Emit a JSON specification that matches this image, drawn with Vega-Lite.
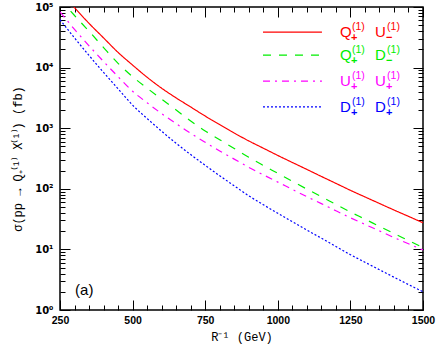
{
 "$schema": "https://vega.github.io/schema/vega-lite/v6.json",
 "width": 363,
 "height": 303,
 "autosize": "none",
 "padding": {"left": 60, "top": 7, "right": 13, "bottom": 37},
 "background": "white",
 "config": {
  "view": {"stroke": "black", "strokeWidth": 1.5},
  "axis": {"domain": false, "grid": false, "tickColor": "black", "tickWidth": 1, "labelColor": "black", "titleColor": "black", "labelFont": "DejaVu Sans", "labelFontWeight": "bold", "labelFontSize": 10, "titleFont": "Liberation Mono", "titleFontWeight": "normal", "titleFontSize": 12, "labelFlush": false, "labelOverlap": false}
 },
 "datasets": {
  "curves": [
   {"s": "Q+U-", "x": 250, "y": 186000}, {"s": "Q+U-", "x": 300, "y": 97700}, {"s": "Q+U-", "x": 350, "y": 53700}, {"s": "Q+U-", "x": 400, "y": 30900}, {"s": "Q+U-", "x": 450, "y": 17800}, {"s": "Q+U-", "x": 500, "y": 11000}, {"s": "Q+U-", "x": 550, "y": 6920}, {"s": "Q+U-", "x": 600, "y": 4570}, {"s": "Q+U-", "x": 650, "y": 3160}, {"s": "Q+U-", "x": 700, "y": 2240}, {"s": "Q+U-", "x": 750, "y": 1585}, {"s": "Q+U-", "x": 800, "y": 1148}, {"s": "Q+U-", "x": 850, "y": 832}, {"s": "Q+U-", "x": 900, "y": 617}, {"s": "Q+U-", "x": 950, "y": 468}, {"s": "Q+U-", "x": 1000, "y": 355}, {"s": "Q+U-", "x": 1050, "y": 272}, {"s": "Q+U-", "x": 1100, "y": 209}, {"s": "Q+U-", "x": 1150, "y": 160}, {"s": "Q+U-", "x": 1200, "y": 123}, {"s": "Q+U-", "x": 1250, "y": 94.4}, {"s": "Q+U-", "x": 1300, "y": 73.5}, {"s": "Q+U-", "x": 1350, "y": 57.3}, {"s": "Q+U-", "x": 1400, "y": 44.7}, {"s": "Q+U-", "x": 1450, "y": 35.1}, {"s": "Q+U-", "x": 1500, "y": 27.5},
   {"s": "Q+D-", "x": 250, "y": 134900}, {"s": "Q+D-", "x": 300, "y": 72400}, {"s": "Q+D-", "x": 350, "y": 39800}, {"s": "Q+D-", "x": 400, "y": 21400}, {"s": "Q+D-", "x": 450, "y": 11750}, {"s": "Q+D-", "x": 500, "y": 7080}, {"s": "Q+D-", "x": 550, "y": 4570}, {"s": "Q+D-", "x": 600, "y": 3020}, {"s": "Q+D-", "x": 650, "y": 1995}, {"s": "Q+D-", "x": 700, "y": 1318}, {"s": "Q+D-", "x": 750, "y": 899}, {"s": "Q+D-", "x": 800, "y": 646}, {"s": "Q+D-", "x": 850, "y": 462}, {"s": "Q+D-", "x": 900, "y": 331}, {"s": "Q+D-", "x": 950, "y": 243}, {"s": "Q+D-", "x": 1000, "y": 180}, {"s": "Q+D-", "x": 1050, "y": 133}, {"s": "Q+D-", "x": 1100, "y": 98.9}, {"s": "Q+D-", "x": 1150, "y": 74.1}, {"s": "Q+D-", "x": 1200, "y": 55.3}, {"s": "Q+D-", "x": 1250, "y": 41.4}, {"s": "Q+D-", "x": 1300, "y": 31.6}, {"s": "Q+D-", "x": 1350, "y": 24.0}, {"s": "Q+D-", "x": 1400, "y": 18.3}, {"s": "Q+D-", "x": 1450, "y": 14.0}, {"s": "Q+D-", "x": 1500, "y": 10.7},
   {"s": "U+U+", "x": 250, "y": 83200}, {"s": "U+U+", "x": 300, "y": 42700}, {"s": "U+U+", "x": 350, "y": 22900}, {"s": "U+U+", "x": 400, "y": 12590}, {"s": "U+U+", "x": 450, "y": 7080}, {"s": "U+U+", "x": 500, "y": 4070}, {"s": "U+U+", "x": 550, "y": 2630}, {"s": "U+U+", "x": 600, "y": 1738}, {"s": "U+U+", "x": 650, "y": 1189}, {"s": "U+U+", "x": 700, "y": 822}, {"s": "U+U+", "x": 750, "y": 585}, {"s": "U+U+", "x": 800, "y": 422}, {"s": "U+U+", "x": 850, "y": 309}, {"s": "U+U+", "x": 900, "y": 226}, {"s": "U+U+", "x": 950, "y": 170}, {"s": "U+U+", "x": 1000, "y": 129}, {"s": "U+U+", "x": 1050, "y": 97.7}, {"s": "U+U+", "x": 1100, "y": 74.1}, {"s": "U+U+", "x": 1150, "y": 56.9}, {"s": "U+U+", "x": 1200, "y": 43.4}, {"s": "U+U+", "x": 1250, "y": 33.3}, {"s": "U+U+", "x": 1300, "y": 25.9}, {"s": "U+U+", "x": 1350, "y": 20.2}, {"s": "U+U+", "x": 1400, "y": 15.7}, {"s": "U+U+", "x": 1450, "y": 12.4}, {"s": "U+U+", "x": 1500, "y": 9.77},
   {"s": "D+D+", "x": 250, "y": 61700}, {"s": "D+D+", "x": 300, "y": 30900}, {"s": "D+D+", "x": 350, "y": 15850}, {"s": "D+D+", "x": 400, "y": 8320}, {"s": "D+D+", "x": 450, "y": 4470}, {"s": "D+D+", "x": 500, "y": 2400}, {"s": "D+D+", "x": 550, "y": 1445}, {"s": "D+D+", "x": 600, "y": 891}, {"s": "D+D+", "x": 650, "y": 562}, {"s": "D+D+", "x": 700, "y": 367}, {"s": "D+D+", "x": 750, "y": 244}, {"s": "D+D+", "x": 800, "y": 164}, {"s": "D+D+", "x": 850, "y": 112}, {"s": "D+D+", "x": 900, "y": 76.7}, {"s": "D+D+", "x": 950, "y": 54.7}, {"s": "D+D+", "x": 1000, "y": 39.4}, {"s": "D+D+", "x": 1050, "y": 28.7}, {"s": "D+D+", "x": 1100, "y": 20.9}, {"s": "D+D+", "x": 1150, "y": 15.3}, {"s": "D+D+", "x": 1200, "y": 11.2}, {"s": "D+D+", "x": 1250, "y": 8.18}, {"s": "D+D+", "x": 1300, "y": 6.14}, {"s": "D+D+", "x": 1350, "y": 4.62}, {"s": "D+D+", "x": 1400, "y": 3.48}, {"s": "D+D+", "x": 1450, "y": 2.63}, {"s": "D+D+", "x": 1500, "y": 2.0}
  ],
  "legend": [
   {"s": "Q+U-", "m1": "Q", "b1": "+", "m2": "U", "b2": "−", "ly": 38600},
   {"s": "Q+D-", "m1": "Q", "b1": "+", "m2": "D", "b2": "−", "ly": 16100},
   {"s": "U+U+", "m1": "U", "b1": "+", "m2": "U", "b2": "+", "ly": 6000},
   {"s": "D+D+", "m1": "D", "b1": "+", "m2": "D", "b2": "+", "ly": 2240}
  ],
  "tag": [{"t": "(a)"}]
 },
 "layer": [
  {
   "layer": [
    {
     "data": {"name": "curves"},
     "mark": {"type": "line", "clip": true, "strokeWidth": 1.2, "interpolate": "monotone"},
     "encoding": {
      "x": {"field": "x", "type": "quantitative", "scale": {"domain": [250, 1500], "nice": false, "zero": false},
            "axis": {"orient": "bottom", "values": [250, 500, 750, 1000, 1250, 1500], "format": "d", "labelFont": "Liberation Sans", "labelFontSize": 10.5, "tickSize": -10, "labelPadding": 15, "title": "R⁻¹ (GeV)", "titlePadding": 6}},
      "y": {"field": "y", "type": "quantitative", "scale": {"type": "log", "domain": [1, 100000], "nice": false},
            "axis": {"orient": "left", "values": [1, 10, 100, 1000, 10000, 100000], "tickSize": -10, "labelPadding": 17, "labelExpr": "'10' + ['⁰','¹','²','³','⁴','⁵'][round(log(datum.value)/LN10)]", "title": "σ(pp → Q₊⁽¹⁾ X⁽¹⁾) (fb)", "titlePadding": 10}},
      "color": {"field": "s", "type": "nominal", "scale": {"domain": ["Q+U-", "Q+D-", "U+U+", "D+D+"], "range": ["#ff0000", "#00ee00", "#ff00ff", "#0000ff"]}, "legend": null},
      "strokeDash": {"field": "s", "type": "nominal", "scale": {"domain": ["Q+U-", "Q+D-", "U+U+", "D+D+"], "range": [[1, 0], [8, 8], [7, 5, 2, 5], [2, 2]]}, "legend": null}
     }
    },
    {
     "data": {"name": "legend"},
     "mark": {"type": "rule", "strokeWidth": 1.2},
     "encoding": {
      "x": {"datum": 949, "type": "quantitative"},
      "x2": {"datum": 1152},
      "y": {"field": "ly", "type": "quantitative"},
      "color": {"field": "s", "type": "nominal"},
      "strokeDash": {"field": "s", "type": "nominal"}
     }
    },
    {
     "data": {"name": "legend"},
     "mark": {"type": "text", "align": "left", "baseline": "middle", "font": "Liberation Sans", "fontSize": 15},
     "encoding": {"x": {"datum": 1214, "type": "quantitative"}, "y": {"field": "ly", "type": "quantitative"}, "text": {"field": "m1"}, "color": {"field": "s", "type": "nominal"}}
    },
    {
     "data": {"name": "legend"},
     "mark": {"type": "text", "align": "left", "baseline": "middle", "font": "Liberation Sans", "fontSize": 10.5, "dx": 12, "dy": -5},
     "encoding": {"x": {"datum": 1214, "type": "quantitative"}, "y": {"field": "ly", "type": "quantitative"}, "text": {"value": "(1)"}, "color": {"field": "s", "type": "nominal"}}
    },
    {
     "data": {"name": "legend"},
     "mark": {"type": "text", "align": "left", "baseline": "middle", "font": "Liberation Sans", "fontSize": 11, "fontWeight": "bold", "dx": 11, "dy": 6},
     "encoding": {"x": {"datum": 1214, "type": "quantitative"}, "y": {"field": "ly", "type": "quantitative"}, "text": {"field": "b1"}, "color": {"field": "s", "type": "nominal"}}
    },
    {
     "data": {"name": "legend"},
     "mark": {"type": "text", "align": "left", "baseline": "middle", "font": "Liberation Sans", "fontSize": 15},
     "encoding": {"x": {"datum": 1335, "type": "quantitative"}, "y": {"field": "ly", "type": "quantitative"}, "text": {"field": "m2"}, "color": {"field": "s", "type": "nominal"}}
    },
    {
     "data": {"name": "legend"},
     "mark": {"type": "text", "align": "left", "baseline": "middle", "font": "Liberation Sans", "fontSize": 10.5, "dx": 12, "dy": -5},
     "encoding": {"x": {"datum": 1335, "type": "quantitative"}, "y": {"field": "ly", "type": "quantitative"}, "text": {"value": "(1)"}, "color": {"field": "s", "type": "nominal"}}
    },
    {
     "data": {"name": "legend"},
     "mark": {"type": "text", "align": "left", "baseline": "middle", "font": "Liberation Sans", "fontSize": 11, "fontWeight": "bold", "dx": 11, "dy": 6},
     "encoding": {"x": {"datum": 1335, "type": "quantitative"}, "y": {"field": "ly", "type": "quantitative"}, "text": {"field": "b2"}, "color": {"field": "s", "type": "nominal"}}
    },
    {
     "data": {"name": "tag"},
     "mark": {"type": "text", "align": "left", "baseline": "middle", "font": "Liberation Sans", "fontSize": 15, "color": "black"},
     "encoding": {"x": {"datum": 302, "type": "quantitative"}, "y": {"datum": 2.14, "type": "quantitative"}, "text": {"field": "t"}}
    }
   ]
  },
  {
   "data": {"name": "curves"},
   "mark": {"type": "point", "opacity": 0},
   "encoding": {
    "x": {"field": "x", "type": "quantitative", "scale": {"domain": [250, 1500], "nice": false, "zero": false},
          "axis": {"orient": "bottom", "values": [300, 350, 400, 450, 550, 600, 650, 700, 800, 850, 900, 950, 1050, 1100, 1150, 1200, 1300, 1350, 1400, 1450], "tickSize": -5, "labels": false, "title": null}},
    "y": {"field": "y", "type": "quantitative", "scale": {"type": "log", "domain": [1, 100000], "nice": false},
          "axis": {"orient": "left", "values": [2, 3, 4, 5, 6, 7, 8, 9, 20, 30, 40, 50, 60, 70, 80, 90, 200, 300, 400, 500, 600, 700, 800, 900, 2000, 3000, 4000, 5000, 6000, 7000, 8000, 9000, 20000, 30000, 40000, 50000, 60000, 70000, 80000, 90000], "tickSize": -5, "labels": false, "title": null}}
   }
  },
  {
   "data": {"name": "curves"},
   "mark": {"type": "point", "opacity": 0},
   "encoding": {
    "x": {"field": "x", "type": "quantitative", "scale": {"domain": [250, 1500], "nice": false, "zero": false},
          "axis": {"orient": "top", "values": [250, 500, 750, 1000, 1250, 1500], "tickSize": -10, "labels": false, "title": null}},
    "y": {"field": "y", "type": "quantitative", "scale": {"type": "log", "domain": [1, 100000], "nice": false},
          "axis": {"orient": "right", "values": [1, 10, 100, 1000, 10000, 100000], "tickSize": -10, "labels": false, "title": null}}
   }
  },
  {
   "data": {"name": "curves"},
   "mark": {"type": "point", "opacity": 0},
   "encoding": {
    "x": {"field": "x", "type": "quantitative", "scale": {"domain": [250, 1500], "nice": false, "zero": false},
          "axis": {"orient": "top", "values": [300, 350, 400, 450, 550, 600, 650, 700, 800, 850, 900, 950, 1050, 1100, 1150, 1200, 1300, 1350, 1400, 1450], "tickSize": -5, "labels": false, "title": null}},
    "y": {"field": "y", "type": "quantitative", "scale": {"type": "log", "domain": [1, 100000], "nice": false},
          "axis": {"orient": "right", "values": [2, 3, 4, 5, 6, 7, 8, 9, 20, 30, 40, 50, 60, 70, 80, 90, 200, 300, 400, 500, 600, 700, 800, 900, 2000, 3000, 4000, 5000, 6000, 7000, 8000, 9000, 20000, 30000, 40000, 50000, 60000, 70000, 80000, 90000], "tickSize": -5, "labels": false, "title": null}}
   }
  }
 ],
 "resolve": {"scale": {"x": "independent", "y": "independent"}}
}
